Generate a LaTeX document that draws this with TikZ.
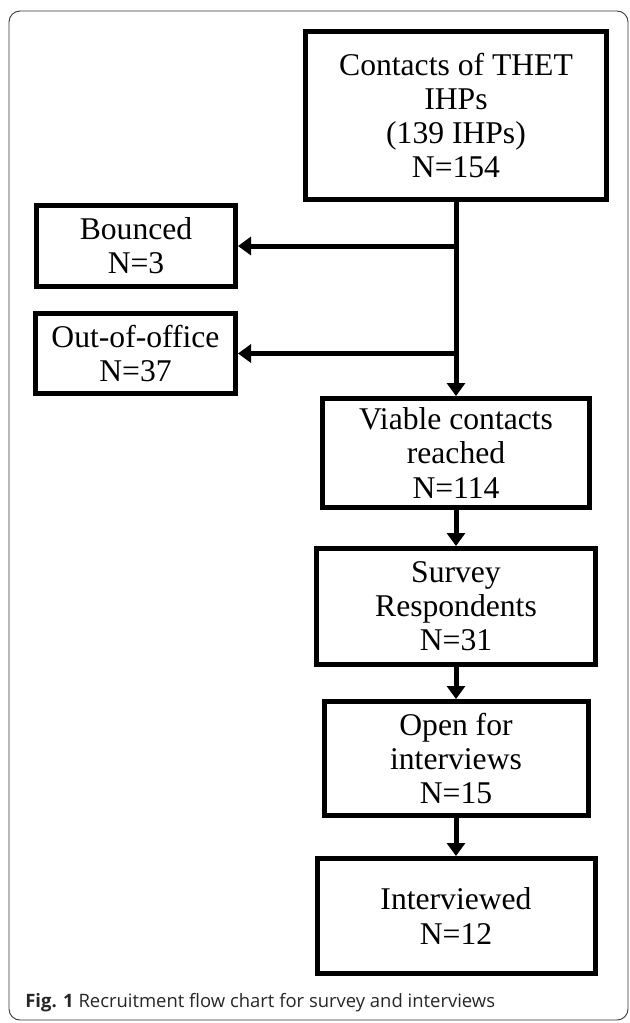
\documentclass[tikz,border=0pt]{standalone}
\usepackage{fontspec}
\setmainfont{Liberation Serif}
\newfontfamily\capfont{Open Sans}
\usepackage{tikz}
\usetikzlibrary{arrows.meta,positioning}

\begin{document}
\begin{tikzpicture}[>={Triangle[length=0.26cm,width=0.36cm]},
    box/.style={draw,line width=0.1cm,align=center,inner sep=1pt,
      font=\fontsize{18}{19.4}\selectfont},
    flow/.style={->,line width=0.1cm},
    node distance=0.7cm]

  \useasboundingbox (0,0) rectangle (12.58,-20.46);
  \draw[black!80,line width=0.5pt,rounded corners=0.22cm]
    (0.18,-0.22) rectangle (12.56,-20.40);

  \node[box,minimum width=6.02cm,minimum height=3.36cm] (contacts) at (9.12,-2.31)
    {Contacts of THET\\IHPs\\(139 IHPs)\\N=154};
  \node[box,minimum width=3.98cm,minimum height=1.62cm] (bounced) at (2.72,-4.92)
    {Bounced\\N=3};
  \node[box,minimum width=4.0cm,minimum height=1.6cm] (office) at (2.71,-7.07)
    {Out-of-office\\N=37};
  \node[box,minimum width=5.34cm,minimum height=2.18cm] (viable) [below=3.88cm of contacts]
    {Viable contacts\\reached\\N=114};
  \node[box,minimum width=5.58cm,minimum height=2.32cm] (survey) [below=0.72cm of viable]
    {Survey\\Respondents\\N=31};
  \node[box,minimum width=5.28cm,minimum height=2.28cm] (open) [below=0.64cm of survey]
    {Open for\\interviews\\N=15};
  \node[box,minimum width=5.56cm,minimum height=2.3cm] (interviewed) [below=0.76cm of open]
    {Interviewed\\N=12};

  \node[anchor=west,inner sep=0pt,text=black!85,
    font=\capfont\fontsize{10.5}{12}\selectfont] (caption) at (0.5,-20.06)
    {\textbf{Fig. 1} Recruitment flow chart for survey and interviews};

  \draw[flow] (contacts) -- (viable);
  \draw[flow] (contacts.south |- bounced.east) -- (bounced.east);
  \draw[flow] (contacts.south |- office.east) -- (office.east);
  \draw[flow] (viable) -- (survey);
  \draw[flow] (survey) -- (open);
  \draw[flow] (open) -- (interviewed);
\end{tikzpicture}
\end{document}
